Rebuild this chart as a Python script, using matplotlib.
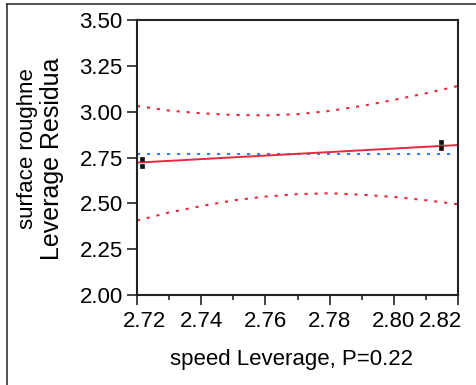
import matplotlib
matplotlib.use("Agg")
import matplotlib.pyplot as plt
import matplotlib.transforms as transforms
from matplotlib.lines import Line2D

plt.rcParams['font.family'] = ['Liberation Sans', 'DejaVu Sans']

# values
curve_x = [2.72, 2.73, 2.74, 2.75, 2.76, 2.77, 2.78, 2.79, 2.80, 2.81, 2.82]
upper_y = [3.031, 3.006, 2.991, 2.982, 2.980, 2.986, 3.004, 3.031, 3.064, 3.100, 3.140]
lower_y = [2.406, 2.450, 2.485, 2.516, 2.537, 2.550, 2.555, 2.547, 2.535, 2.517, 2.495]
fit_x = [2.72, 2.82]
fit_y = [2.722, 2.818]
mean_y = 2.767
pt_x = [2.7215, 2.7215, 2.8146, 2.8146]
pt_y = [2.744, 2.706, 2.836, 2.803]

xticks = [2.72, 2.74, 2.76, 2.78, 2.80, 2.82]
xminor = [2.73, 2.75, 2.77, 2.79, 2.81]
yticks = [2.00, 2.25, 2.50, 2.75, 3.00, 3.25, 3.50]

W, H = 476, 385
fig = plt.figure(figsize=(W / 100, H / 100), dpi=100)
ax = fig.add_axes([137 / W, (H - 295) / H, 321 / W, 275 / H])

red = '#e8283e'
blue = '#3a7bf2'

ax.plot(curve_x, upper_y, color=red, lw=1.5, linestyle=(0, (1.5, 3.3)))
ax.plot(curve_x, lower_y, color=red, lw=1.5, linestyle=(0, (1.5, 3.3)))
ax.axhline(mean_y, color=blue, lw=1.5, linestyle=(0, (1.5, 3.3)))
ax.plot(fit_x, fit_y, color=red, lw=1.4)
ax.plot(pt_x, pt_y, 's', color='#111111', ms=2.6, mec='#111111', mew=0.5)

ax.set_xlim(2.72, 2.82)
ax.set_ylim(2.0, 3.5)
ax.set_xticks(xticks)
ax.set_xticks(xminor, minor=True)
ax.set_xticklabels([f'{v:.2f}' for v in xticks])
ax.set_yticks(yticks)
ax.set_yticklabels([f'{v:.2f}' for v in yticks])

for s in ax.spines.values():
    s.set_linewidth(1.5)
    s.set_color('#222222')
ax.tick_params(axis='both', which='major', length=7.2, width=1.2, labelsize=16,
               color='#222222', pad=3)
ax.tick_params(axis='x', which='major', pad=4.5)
ax.tick_params(axis='x', which='minor', length=3.6, width=1.2, color='#222222')

# end labels pulled inward like the original
labs = ax.get_xticklabels()
labs[0].set_transform(labs[0].get_transform() +
                      transforms.ScaledTranslation(8 / 100, 0, fig.dpi_scale_trans))
labs[-1].set_transform(labs[-1].get_transform() +
                       transforms.ScaledTranslation(-17 / 100, 0, fig.dpi_scale_trans))

fig.text(292 / W, 1 - 360 / H, 'speed Leverage, P=0.22', ha='center', va='center',
         fontsize=16)
fig.text(28 / W, 1 - 68 / H, 'surface roughne', rotation=90, ha='center', va='top',
         fontsize=16)
fig.text(52 / W, 1 - 57 / H, 'Leverage Residua', rotation=90, ha='center', va='top',
         fontsize=18)

# outer frame (cropped on right and bottom)
fig.add_artist(Line2D([7 / W, 7 / W], [0, 1 - 4 / H], color='#333333', lw=1.2))
fig.add_artist(Line2D([7 / W, 1], [1 - 4 / H, 1 - 4 / H], color='#333333', lw=1.2))

fig.savefig('out.png', dpi=100)
